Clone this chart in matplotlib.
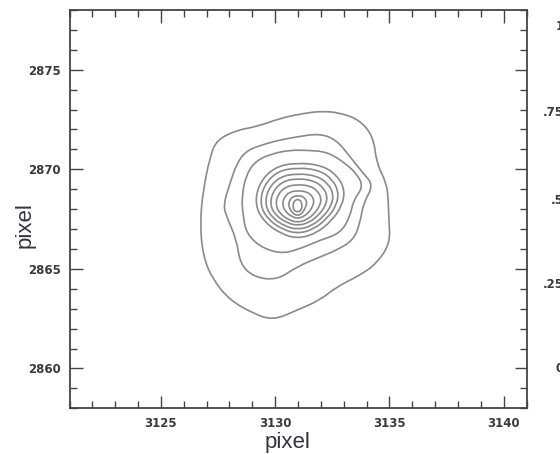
import numpy as np
import matplotlib
matplotlib.use('Agg')
import matplotlib.pyplot as plt
from matplotlib.path import Path
from matplotlib.patches import PathPatch

# contour outlines (data units, pixel coordinates of the frame)
c1_x = [3130.21, 3131.23, 3132.05, 3132.84, 3133.71, 3134.30, 3134.44, 3134.88, 3134.95,
        3134.98, 3135.03, 3134.44, 3133.71, 3132.69, 3131.96, 3130.94, 3129.92, 3129.04,
        3128.02, 3127.29, 3126.85, 3126.71, 3126.85, 3127.15, 3127.44, 3128.32, 3129.19]
c1_y = [2872.56, 2872.81, 2872.92, 2872.84, 2872.47, 2871.63, 2870.30, 2869.29, 2868.45,
        2867.45, 2866.28, 2865.27, 2864.68, 2864.10, 2863.43, 2862.92, 2862.42, 2862.76,
        2863.43, 2864.43, 2865.60, 2867.28, 2868.95, 2870.63, 2871.47, 2871.97, 2872.14]

c2_x = [3130.21, 3130.94, 3131.96, 3132.69, 3133.28, 3133.86, 3134.30, 3133.86, 3133.71,
        3133.42, 3132.69, 3131.96, 3130.94, 3130.07, 3129.04, 3128.46, 3128.32, 3127.88,
        3127.73, 3128.02, 3128.32, 3128.75, 3129.63]
c2_y = [2871.47, 2871.63, 2871.80, 2871.47, 2870.63, 2869.79, 2869.21, 2868.29, 2867.28,
        2866.44, 2865.94, 2865.60, 2865.10, 2864.43, 2864.60, 2865.27, 2866.44, 2867.61,
        2868.20, 2869.29, 2870.30, 2870.96, 2871.30]

c3_x = [3130.65, 3131.38, 3132.26, 3132.98, 3133.57, 3133.86, 3133.42, 3133.28, 3132.84,
        3131.96, 3130.94, 3130.21, 3129.34, 3128.75, 3128.60, 3128.53, 3128.75, 3129.19,
        3129.92]
c3_y = [2870.96, 2870.96, 2870.88, 2870.38, 2869.79, 2869.12, 2868.45, 2867.61, 2866.78,
        2866.44, 2865.94, 2865.77, 2866.11, 2866.78, 2867.61, 2868.62, 2869.79, 2870.46,
        2870.80]

c4_x = [3130.98, 3132.09, 3132.75, 3133.05, 3132.93, 3132.49, 3131.78, 3130.98, 3130.24,
        3129.53, 3129.12, 3129.27, 3129.96]
c4_y = [2870.34, 2870.19, 2869.65, 2868.94, 2868.18, 2867.43, 2866.77, 2866.52, 2866.77,
        2867.35, 2868.18, 2869.26, 2870.12]

c5_x = [3130.98, 3131.94, 3132.52, 3132.78, 3132.68, 3132.29, 3131.68, 3130.98, 3130.32,
        3129.70, 3129.34, 3129.47, 3130.08]
c5_y = [2870.09, 2869.96, 2869.48, 2868.85, 2868.18, 2867.55, 2866.98, 2866.77, 2866.98,
        2867.47, 2868.18, 2869.14, 2869.90]

c6_x = [3130.98, 3131.82, 3132.33, 3132.56, 3132.46, 3132.13, 3131.59, 3130.98, 3130.41,
        3129.87, 3129.56, 3129.67, 3130.20]
c6_y = [2869.79, 2869.68, 2869.27, 2868.74, 2868.18, 2867.64, 2867.15, 2866.97, 2867.15,
        2867.57, 2868.18, 2868.99, 2869.63]

c7_x = [3130.98, 3131.68, 3132.10, 3132.29, 3132.21, 3131.93, 3131.49, 3130.98, 3130.50,
        3130.04, 3129.78, 3129.88, 3130.32]
c7_y = [2869.54, 2869.44, 2869.10, 2868.66, 2868.18, 2867.73, 2867.32, 2867.17, 2867.32,
        2867.67, 2868.18, 2868.86, 2869.40]

c8_x = [3130.98, 3131.54, 3131.87, 3132.02, 3131.96, 3131.74, 3131.38, 3130.98, 3130.60,
        3130.23, 3130.02, 3130.10, 3130.45]
c8_y = [2869.24, 2869.17, 2868.90, 2868.55, 2868.18, 2867.80, 2867.46, 2867.33, 2867.46,
        2867.75, 2868.18, 2868.71, 2869.13]

c9_x = [3130.98, 3131.37, 3131.60, 3131.70, 3131.66, 3131.51, 3131.26, 3130.98, 3130.72,
        3130.47, 3130.32, 3130.37, 3130.62]
c9_y = [2868.93, 2868.88, 2868.69, 2868.44, 2868.18, 2867.89, 2867.63, 2867.53, 2867.63,
        2867.85, 2868.18, 2868.56, 2868.86]

c10_x = [3130.98, 3131.19, 3131.32, 3131.38, 3131.36, 3131.27, 3131.14, 3130.98, 3130.82,
         3130.68, 3130.59, 3130.62, 3130.77]
c10_y = [2868.68, 2868.65, 2868.52, 2868.36, 2868.18, 2867.95, 2867.75, 2867.68, 2867.75,
         2867.93, 2868.18, 2868.43, 2868.63]

c11_x = [3130.98, 3131.12, 3131.17, 3131.17, 3131.10, 3130.98, 3130.86, 3130.79, 3130.79, 3130.84]
c11_y = [2868.50, 2868.42, 2868.25, 2868.05, 2867.90, 2867.87, 2867.90, 2868.05, 2868.25, 2868.42]

contours = [(c1_x, c1_y), (c2_x, c2_y), (c3_x, c3_y), (c4_x, c4_y), (c5_x, c5_y),
            (c6_x, c6_y), (c7_x, c7_y), (c8_x, c8_y), (c9_x, c9_y), (c10_x, c10_y),
            (c11_x, c11_y)]

x_ticks = [3125, 3130, 3135, 3140]
y_ticks = [2860, 2865, 2870, 2875]
right_labels = ['1', '.75', '.5', '.25', '0']   # tick labels of the neighbouring panel
right_label_y = [27, 113, 200, 285, 368]        # pixel rows in the figure


def closed_curve(xs, ys):
    # smooth closed curve through the read points (quadratic bezier segments)
    pts = np.column_stack([xs, ys])
    mids = (pts + np.roll(pts, -1, axis=0)) / 2
    verts = [mids[-1]]
    codes = [Path.MOVETO]
    for i in range(len(pts)):
        verts += [pts[i], mids[i]]
        codes += [Path.CURVE3, Path.CURVE3]
    return Path(verts, codes)


fig = plt.figure(figsize=(5.6, 4.54), dpi=100)
fig.subplots_adjust(left=69.5 / 560, right=526.5 / 560, bottom=1 - 408.3 / 454, top=1 - 10 / 454)
ax = fig.add_subplot(111)

for xs, ys in contours:
    ax.add_patch(PathPatch(closed_curve(xs, ys), facecolor='none',
                           edgecolor='#8a8a8a', lw=1.2))

ax.set_xlim(3121, 3141)
ax.set_ylim(2858, 2878)
ax.set_xticks(x_ticks)
ax.set_yticks(y_ticks)
ax.set_xticks(np.arange(3121, 3142), minor=True)
ax.set_yticks(np.arange(2858, 2879), minor=True)

for s in ax.spines.values():
    s.set_linewidth(1.3)
    s.set_color('#444444')

ax.tick_params(which='both', direction='in', top=True, right=True, color='#444444', width=1.0)
ax.tick_params(which='major', length=9)
ax.tick_params(which='minor', length=5)
ax.tick_params(axis='y', pad=6)
ax.tick_params(axis='x', pad=6)
for lab in ax.get_xticklabels() + ax.get_yticklabels():
    lab.set_fontsize(8.5)
    lab.set_fontweight('bold')
    lab.set_color('#3a3a3a')

ax.set_xlabel('pixel', fontsize=16, family='Liberation Sans', color='#333340')
ax.set_ylabel('pixel', fontsize=16, family='Liberation Sans', color='#333340')
ax.xaxis.label.set_va('center')
ax.yaxis.label.set_va('center')
ax.xaxis.set_label_coords(0.478, -0.086)
ax.yaxis.set_label_coords(-0.097, 0.46)

for lab, py in zip(right_labels, right_label_y):
    fig.text(564 / 560, 1 - py / 454, lab, ha='right', va='center',
             fontsize=8.5, fontweight='bold', color='#3a3a3a')

fig.savefig('out.png', dpi=100)
